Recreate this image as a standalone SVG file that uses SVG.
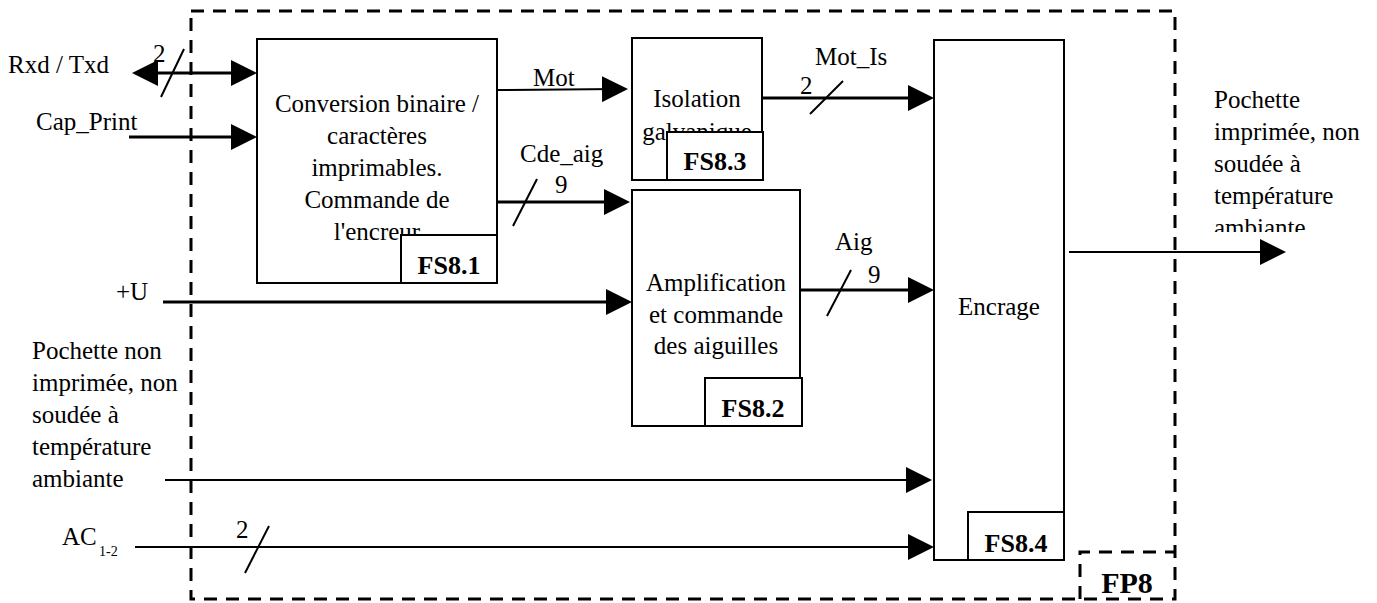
<svg xmlns="http://www.w3.org/2000/svg" width="1377" height="603" viewBox="0 0 1377 603" font-family="'Liberation Serif', 'Times New Roman', serif">
<defs>
<style>
text{font-family:"Liberation Serif","Times New Roman",serif;font-size:25px;fill:#000}
.c{text-anchor:middle}
.b{font-weight:bold;text-anchor:middle;font-size:26px}
.box{fill:#fff;stroke:#000;stroke-width:2}
.thick{stroke:#000;stroke-width:3;fill:none}
.thin{stroke:#000;stroke-width:2;fill:none}
.dash{stroke:#000;stroke-width:3;fill:none;stroke-dasharray:13 9}
</style>
<marker id="arr" viewBox="0 0 26 26" refX="16" refY="13" markerWidth="26" markerHeight="26" markerUnits="userSpaceOnUse" orient="auto-start-reverse">
<path d="M0,0 L26,13 L0,26 z" fill="#000"/>
</marker>
<clipPath id="clipOut"><rect x="1200" y="80" width="177" height="152"/></clipPath>
</defs>
<rect width="1377" height="603" fill="#fff"/>

<g id="frame">
<path class="dash" d="M191,11 H1175 V599 H191 Z"/>
<path class="dash" d="M1080,599 V552 H1175"/>
<text class="b" x="1127" y="593" style="font-size:30px">FP8</text>
</g>

<g id="fs81">
<rect class="box" x="257" y="39" width="240" height="244"/>
<text class="c" x="377" y="112">Conversion binaire /</text>
<text class="c" x="377" y="144">caractères</text>
<text class="c" x="377" y="176">imprimables.</text>
<text class="c" x="377" y="208">Commande de</text>
<text class="c" x="377" y="240">l'encreur</text>
<rect class="box" x="401" y="235" width="96" height="48"/>
<text class="b" x="449" y="274">FS8.1</text>
</g>

<g id="fs83">
<rect class="box" x="632" y="38" width="130" height="142"/>
<text class="c" x="697" y="107">Isolation</text>
<text class="c" x="697" y="140">galvanique</text>
<rect class="box" x="667" y="132" width="96" height="48"/>
<text class="b" x="715" y="170">FS8.3</text>
</g>

<g id="fs82">
<rect class="box" x="632" y="190" width="168" height="236"/>
<text class="c" x="716" y="291">Amplification</text>
<text class="c" x="716" y="323">et commande</text>
<text class="c" x="716" y="354">des aiguilles</text>
<rect class="box" x="705" y="378" width="97" height="48"/>
<text class="b" x="753" y="417">FS8.2</text>
</g>

<g id="fs84">
<rect class="box" x="934" y="40" width="130" height="520"/>
<text class="c" x="999" y="315">Encrage</text>
<rect class="box" x="968" y="512" width="96" height="48"/>
<text class="b" x="1016" y="552">FS8.4</text>
</g>

<g id="connectors">
<line class="thick" x1="142" y1="73" x2="247" y2="73" marker-start="url(#arr)" marker-end="url(#arr)"/>
<line class="thin" x1="161" y1="97" x2="184" y2="49"/>
<line class="thick" x1="129" y1="137" x2="247" y2="137" marker-end="url(#arr)"/>
<line class="thin" x1="497" y1="90" x2="618" y2="89" marker-end="url(#arr)"/>
<line class="thick" x1="762" y1="98" x2="924" y2="98" marker-end="url(#arr)"/>
<line class="thin" x1="810" y1="114" x2="843" y2="81"/>
<line class="thick" x1="497" y1="202" x2="620" y2="202" marker-end="url(#arr)"/>
<line class="thin" x1="513" y1="226" x2="537" y2="179"/>
<line class="thick" x1="163" y1="302" x2="622" y2="302" marker-end="url(#arr)"/>
<line class="thick" x1="800" y1="290" x2="924" y2="290" marker-end="url(#arr)"/>
<line class="thin" x1="827" y1="316" x2="851" y2="270"/>
<line class="thin" x1="165" y1="480" x2="922" y2="480" marker-end="url(#arr)"/>
<line class="thin" x1="135" y1="547" x2="924" y2="547" marker-end="url(#arr)"/>
<line class="thin" x1="245" y1="573" x2="269" y2="526"/>
<line class="thin" x1="1069" y1="252" x2="1276" y2="252" marker-end="url(#arr)"/>
</g>

<g id="labels">
<text x="8" y="73">Rxd / Txd</text>
<text x="153" y="62">2</text>
<text x="36" y="130">Cap_Print</text>
<text x="533" y="86">Mot</text>
<text x="815" y="65">Mot_Is</text>
<text x="800" y="94">2</text>
<text x="520" y="162">Cde_aig</text>
<text x="555" y="193">9</text>
<text x="835" y="250">Aig</text>
<text x="868" y="283">9</text>
<text x="116" y="300">+U</text>
<text x="32" y="359">Pochette non</text>
<text x="32" y="391">imprimée, non</text>
<text x="32" y="423">soudée à</text>
<text x="32" y="455">température</text>
<text x="32" y="487">ambiante</text>
<text x="236" y="538">2</text>
<text x="62" y="545">AC<tspan x="99" y="556" style="font-size:14px">1-2</tspan></text>
<g clip-path="url(#clipOut)">
<text x="1214" y="108">Pochette</text>
<text x="1214" y="140">imprimée, non</text>
<text x="1214" y="172">soudée à</text>
<text x="1214" y="204">température</text>
<text x="1214" y="236">ambiante</text>
</g>
</g>
</svg>
